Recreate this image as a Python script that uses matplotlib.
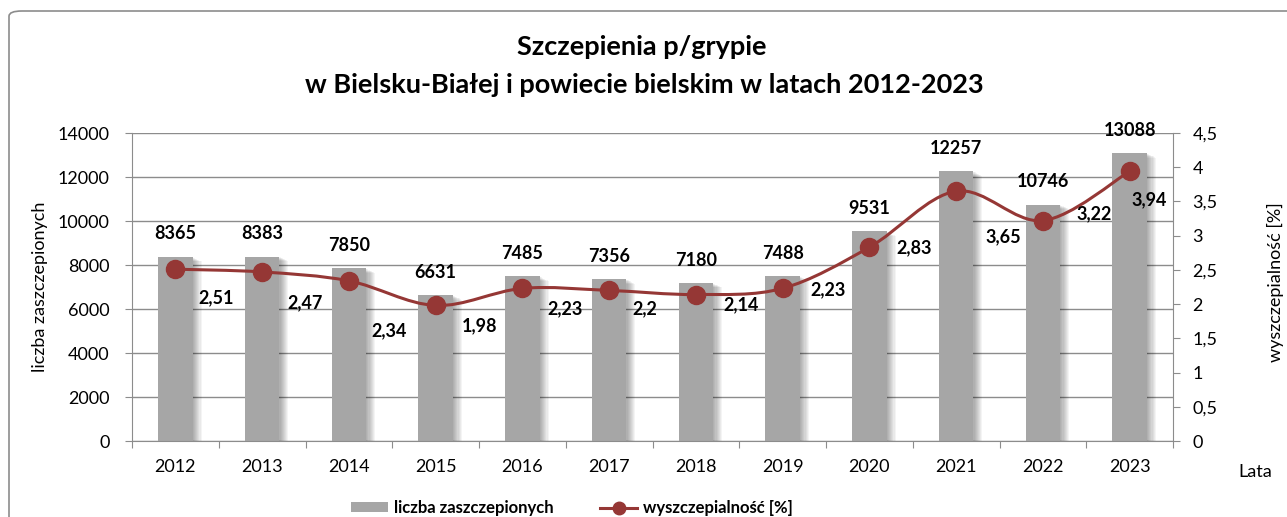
import matplotlib

matplotlib.use("Agg")

import matplotlib.pyplot as plt
import matplotlib.patheffects as pe
import numpy as np
from matplotlib.lines import Line2D
from matplotlib.patches import FancyBboxPatch, Path, PathPatch
from matplotlib.ticker import FixedLocator, FuncFormatter

plt.rcParams["font.family"] = ["Lato", "DejaVu Sans"]

years = ["2012", "2013", "2014", "2015", "2016", "2017",
         "2018", "2019", "2020", "2021", "2022", "2023"]
vaccinated = [8365, 8383, 7850, 6631, 7485, 7356, 7180, 7488, 9531, 12257, 10746, 13088]
coverage = [2.51, 2.47, 2.34, 1.98, 2.23, 2.20, 2.14, 2.23, 2.83, 3.65, 3.22, 3.94]

# label placement for the rate labels (pixels from the marker)
rate_label_offsets = [(41, -29), (43, -31), (40, -50), (44, -20), (43, -20), (36, -18),
                      (45, -10), (45, -1), (45, 0), (47, -46), (51, 7), (20, -28)]

BAR = "#a6a6a6"
LINE = "#953735"
GRID = "#8c8c8c"

W, H = 1287, 517
fig = plt.figure(figsize=(W / 100, H / 100), dpi=100)

# rounded chart frame, cut by the image edge on the right and bottom
frame = FancyBboxPatch((9 / W, -0.05), 1.2, 1 - 11 / H + 0.05,
                       boxstyle="round,pad=0,rounding_size=0.01",
                       transform=fig.transFigure, fill=False,
                       edgecolor="#8c8c8c", linewidth=1.2)
fig.patches.append(frame)

ax = fig.add_axes([132 / W, 1 - 441 / H, (1173 - 132) / W, (441 - 133) / H])
x = np.arange(len(years))

shadow = [pe.SimplePatchShadow(offset=(k * 0.8, -k * 0.4), shadow_rgbFace="k", alpha=0.045)
          for k in range(1, 9)]
ax.bar(x, vaccinated, width=0.4, color=BAR, zorder=2,
       path_effects=shadow + [pe.Normal()])

for xi, v in zip(x, vaccinated):
    ax.annotate(str(v), (xi, v), xytext=(0, 23), textcoords="offset pixels",
                ha="center", va="center", fontsize=13, fontweight="bold", zorder=5)

ax.set_xlim(-0.5, len(years) - 0.5)
ax.set_ylim(0, 14000)
ax.set_yticks(range(0, 14001, 2000))
ax.yaxis.grid(True, color=GRID, linewidth=1)
ax.set_axisbelow(True)

ax.xaxis.set_major_locator(FixedLocator(np.arange(-0.5, len(years), 1.0)))
ax.xaxis.set_major_formatter(FuncFormatter(lambda v, p: ""))
ax.xaxis.set_minor_locator(FixedLocator(x))
ax.set_xticklabels(years, minor=True)
ax.tick_params(axis="x", which="major", length=5, color=GRID)
ax.tick_params(axis="x", which="minor", length=0, pad=13, labelsize=13)
ax.tick_params(axis="y", length=5, color=GRID, labelsize=13, pad=11)

for side in ["top", "right"]:
    ax.spines[side].set_visible(False)
for side in ["left", "bottom"]:
    ax.spines[side].set_color(GRID)
ax.set_ylabel("liczba zaszczepionych", fontsize=13, labelpad=7)

ax2 = ax.twinx()
ax2.set_ylim(0, 4.5)
ax2.set_yticks(np.arange(0, 4.51, 0.5))
ax2.yaxis.set_major_formatter(FuncFormatter(lambda v, p: f"{v:g}".replace(".", ",")))
ax2.tick_params(axis="y", length=5, color=GRID, labelsize=13, pad=9)
for side in ["top", "left", "bottom"]:
    ax2.spines[side].set_visible(False)
ax2.spines["right"].set_color(GRID)

# smoothed line (Catmull-Rom segments as cubic Beziers)
pts = np.column_stack([x, coverage]).astype(float)
verts = [pts[0]]
codes = [Path.MOVETO]
for i in range(len(pts) - 1):
    p0 = pts[max(i - 1, 0)]
    p1 = pts[i]
    p2 = pts[i + 1]
    p3 = pts[min(i + 2, len(pts) - 1)]
    verts += [p1 + (p2 - p0) / 6, p2 - (p3 - p1) / 6, p2]
    codes += [Path.CURVE4] * 3
ax2.add_patch(PathPatch(Path(verts, codes), facecolor="none", edgecolor=LINE,
                        linewidth=2.2, zorder=3))
ax2.plot(x, coverage, linestyle="none", marker="o", markersize=13,
         color=LINE, zorder=4)

for xi, v, (dx, dy) in zip(x, coverage, rate_label_offsets):
    ax2.annotate(f"{v:g}".replace(".", ","), (xi, v), xytext=(dx, dy),
                 textcoords="offset pixels", ha="center", va="center",
                 fontsize=13, fontweight="bold", zorder=5)

fig.text(1275 / W, 1 - 282 / H, "wyszczepialność [%]", fontsize=13, rotation=90,
         ha="center", va="center")
fig.text(1255 / W, 1 - 472 / H, "Lata", fontsize=13, ha="center", va="center")

fig.text(642 / W, 1 - 47 / H, "Szczepienia p/grypie", fontsize=19.5,
         fontweight="bold", ha="center", va="center")
fig.text(644 / W, 1 - 85 / H, "w Bielsku-Białej i powiecie bielskim w latach 2012-2023",
         fontsize=19.5, fontweight="bold", ha="center", va="center")

handles = [
    plt.Rectangle((0, 0), 1, 1, facecolor=BAR, edgecolor="none"),
    Line2D([], [], color=LINE, linewidth=2.2, marker="o", markersize=9),
]
fig.legend(handles, ["liczba zaszczepionych", "wyszczepialność [%]"],
           loc="center", bbox_to_anchor=(572 / W, 1 - 508 / H), ncol=2,
           frameon=False, handlelength=2.2, handleheight=0.55, handletextpad=0.35,
           columnspacing=2.8, prop={"size": 12, "weight": "bold"})

fig.savefig("out.png", dpi=100)
